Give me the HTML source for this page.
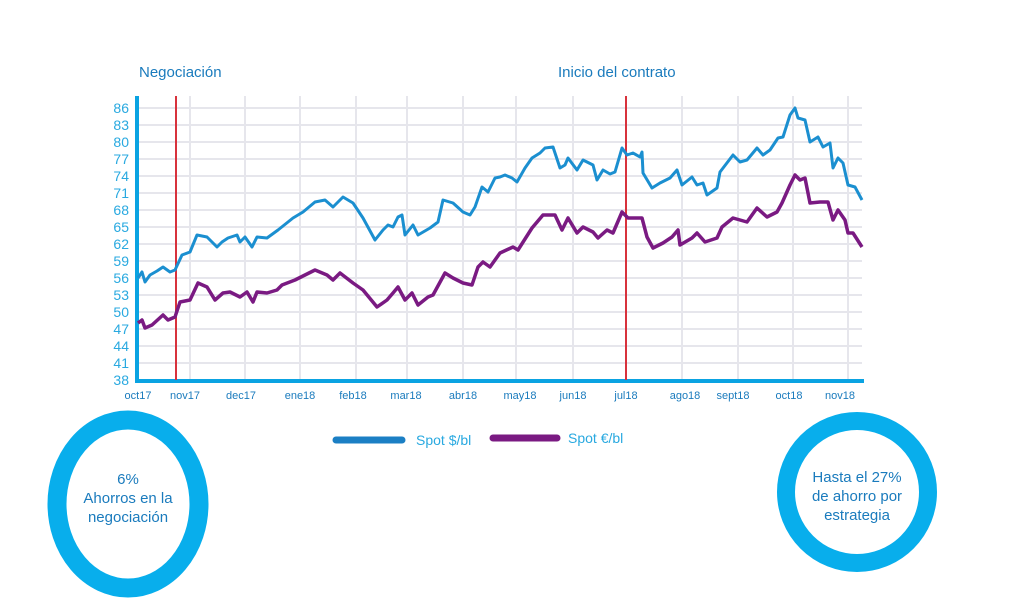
<!DOCTYPE html>
<html><head><meta charset="utf-8"><style>
body{margin:0;background:#fff;width:1024px;height:608px;overflow:hidden}
svg{display:block}
text{font-family:"Liberation Sans",sans-serif}
</style></head><body>
<svg width="1024" height="608" viewBox="0 0 1024 608">
<g stroke="#e6e6ec" stroke-width="2">
<line x1="137" y1="108" x2="862" y2="108"/><line x1="137" y1="125" x2="862" y2="125"/><line x1="137" y1="142" x2="862" y2="142"/><line x1="137" y1="159" x2="862" y2="159"/><line x1="137" y1="176" x2="862" y2="176"/><line x1="137" y1="193" x2="862" y2="193"/><line x1="137" y1="210" x2="862" y2="210"/><line x1="137" y1="227" x2="862" y2="227"/><line x1="137" y1="244" x2="862" y2="244"/><line x1="137" y1="261" x2="862" y2="261"/><line x1="137" y1="278" x2="862" y2="278"/><line x1="137" y1="295" x2="862" y2="295"/><line x1="137" y1="312" x2="862" y2="312"/><line x1="137" y1="329" x2="862" y2="329"/><line x1="137" y1="346" x2="862" y2="346"/><line x1="137" y1="363" x2="862" y2="363"/>
<line x1="190" y1="96" x2="190" y2="380"/><line x1="245" y1="96" x2="245" y2="380"/><line x1="300" y1="96" x2="300" y2="380"/><line x1="356" y1="96" x2="356" y2="380"/><line x1="407" y1="96" x2="407" y2="380"/><line x1="463" y1="96" x2="463" y2="380"/><line x1="516" y1="96" x2="516" y2="380"/><line x1="573" y1="96" x2="573" y2="380"/><line x1="682" y1="96" x2="682" y2="380"/><line x1="738" y1="96" x2="738" y2="380"/><line x1="793" y1="96" x2="793" y2="380"/><line x1="848" y1="96" x2="848" y2="380"/>
</g>
<line x1="137" y1="96" x2="137" y2="382" stroke="#0aa3e2" stroke-width="4"/>
<line x1="135" y1="381" x2="864" y2="381" stroke="#0aa3e2" stroke-width="4"/>
<line x1="176" y1="96" x2="176" y2="380" stroke="#d8323c" stroke-width="2"/>
<line x1="626" y1="96" x2="626" y2="380" stroke="#d8323c" stroke-width="2"/>
<polyline fill="none" stroke="#1b8fd0" stroke-width="3" stroke-linejoin="round" points="138,278 142,272 145,282 150,275 157,271 163,267 170,272 175,270 182,255 190,252 197,235 207,237 217,247 222,242 228,238 237,235 240,242 245,237 252,247 257,237 267,238 278,230 293,218 303,212 315,202 325,200 333,207 343,197 353,203 363,218 375,240 383,230 388,225 393,227 398,217 402,215 405,235 413,225 418,235 430,228 438,222 443,200 453,203 463,212 470,215 475,207 482,187 488,192 495,178 500,177 505,175 512,178 517,182 525,168 532,158 540,153 545,148 553,147 560,168 565,165 568,158 577,170 583,160 593,165 597,180 603,170 610,174 615,172 622,148 627,155 633,153 640,157 642,152 643,173 652,188 660,183 670,178 677,170 682,185 692,177 697,185 703,183 707,195 717,188 720,172 733,155 740,162 747,160 757,148 763,155 770,150 778,138 783,137 790,115 795,108 798,118 805,120 810,142 818,137 823,147 830,143 833,168 838,158 843,163 848,185 855,187 862,200"/>
<polyline fill="none" stroke="#7a1a82" stroke-width="3.5" stroke-linejoin="round" points="138,323 142,320 145,328 152,325 163,315 168,320 175,317 180,302 190,300 198,283 207,287 215,300 223,293 230,292 240,297 247,292 253,302 257,292 267,293 277,290 282,285 295,280 305,275 315,270 327,275 333,280 340,273 353,283 363,290 377,307 387,300 393,293 398,287 405,300 412,293 418,305 428,297 433,295 445,273 453,278 463,283 472,285 478,267 483,262 490,267 500,253 513,247 518,250 532,228 543,215 555,215 562,230 568,218 577,233 583,227 593,232 598,238 607,230 613,233 622,212 628,218 633,218 642,218 647,237 653,248 663,243 672,237 678,230 680,245 692,238 697,233 705,242 717,238 722,227 733,218 747,222 757,208 767,217 777,212 782,203 790,185 795,175 800,180 805,178 810,203 820,202 828,202 833,220 838,210 845,220 848,233 853,233 862,247"/>
<g fill="#29a9e0" font-size="14" text-anchor="end">
<text x="129" y="113">86</text><text x="129" y="130">83</text><text x="129" y="147">80</text><text x="129" y="164">77</text><text x="129" y="181">74</text><text x="129" y="198">71</text><text x="129" y="215">68</text><text x="129" y="232">65</text><text x="129" y="249">62</text><text x="129" y="266">59</text><text x="129" y="283">56</text><text x="129" y="300">53</text><text x="129" y="317">50</text><text x="129" y="334">47</text><text x="129" y="351">44</text><text x="129" y="368">41</text><text x="129" y="385">38</text>
</g>
<g fill="#1a7bbd" font-size="11" text-anchor="middle">
<text x="138" y="399">oct17</text><text x="185" y="399">nov17</text><text x="241" y="399">dec17</text><text x="300" y="399">ene18</text><text x="353" y="399">feb18</text><text x="406" y="399">mar18</text><text x="463" y="399">abr18</text><text x="520" y="399">may18</text><text x="573" y="399">jun18</text><text x="626" y="399">jul18</text><text x="685" y="399">ago18</text><text x="733" y="399">sept18</text><text x="789" y="399">oct18</text><text x="840" y="399">nov18</text>
</g>
<text x="139" y="77" fill="#1a7bbd" font-size="15">Negociación</text>
<text x="558" y="77" fill="#1a7bbd" font-size="15">Inicio del contrato</text>
<line x1="336" y1="440" x2="402" y2="440" stroke="#1b7fc4" stroke-width="7" stroke-linecap="round"/>
<text x="416" y="445" fill="#29a9e0" font-size="14">Spot $/bl</text>
<line x1="493" y1="438" x2="557" y2="438" stroke="#7a1a82" stroke-width="7" stroke-linecap="round"/>
<text x="568" y="443" fill="#29a9e0" font-size="14">Spot €/bl</text>
<ellipse cx="128" cy="504" rx="71" ry="84" fill="none" stroke="#08aeec" stroke-width="19"/>
<g fill="#1a7bbd" font-size="15" text-anchor="middle">
<text x="128" y="484">6%</text><text x="128" y="503">Ahorros en la</text><text x="128" y="522">negociación</text>
</g>
<circle cx="857" cy="492" r="71" fill="none" stroke="#08aeec" stroke-width="18"/>
<g fill="#1a7bbd" font-size="15" text-anchor="middle">
<text x="857" y="482">Hasta el 27%</text><text x="857" y="501">de ahorro por</text><text x="857" y="520">estrategia</text>
</g>
</svg>
</body></html>
